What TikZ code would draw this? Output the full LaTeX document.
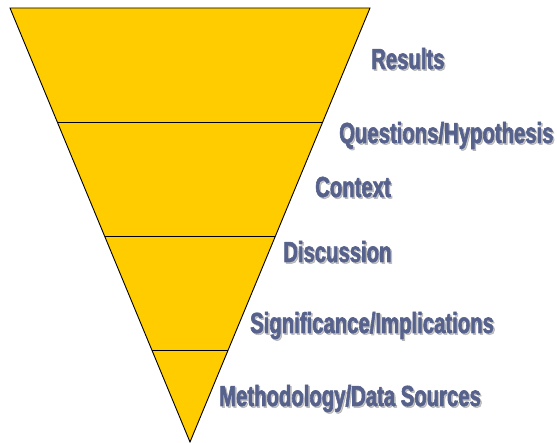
\documentclass[tikz,border=0pt]{standalone}
\usepackage{fontspec}
\usetikzlibrary{calc}
\newfontfamily\lblfont[FakeStretch=0.7,FakeBold=2]{Liberation Sans}
\definecolor{funnel}{RGB}{255,204,0}
\definecolor{lbltext}{RGB}{86,97,140}
\definecolor{lblshadow}{RGB}{150,150,150}
\begin{document}
\begin{tikzpicture}[x=1pt,y=-1pt,
  lbl/.style={anchor=base west,inner sep=0pt,font=\lblfont\bfseries\fontsize{29}{31}\selectfont,text=lbltext},
  shd/.style={anchor=base west,inner sep=0pt,font=\lblfont\bfseries\fontsize{29}{31}\selectfont,text=lblshadow,opacity=0.55},
  band/.style={draw=black,line width=0.9pt}]
\useasboundingbox (0,0) rectangle (557,443);
\coordinate (TL) at (10,8);
\coordinate (TR) at (370,8);
\coordinate (AP) at (190,442);
\filldraw[fill=funnel,draw=black,line width=0.9pt] (TL) -- (TR) -- (AP) -- cycle;
\coordinate (L1) at ($(TL)!0.2627!(AP)$);
\coordinate (R1) at ($(TR)!0.2627!(AP)$);
\coordinate (L2) at ($(TL)!0.5253!(AP)$);
\coordinate (R2) at ($(TR)!0.5253!(AP)$);
\coordinate (L3) at ($(TL)!0.788!(AP)$);
\coordinate (R3) at ($(TR)!0.788!(AP)$);
\draw[band] (L1) -- (R1);
\draw[band] (L2) -- (R2);
\draw[band] (L3) -- (R3);
% shadows
\node[shd] (s1) at (372.5,70.5) {Results};
\node[shd] (s2) at (340.5,144.5) {Questions/Hypothesis};
\node[shd] (s3) at (316.5,198.5) {Context};
\node[shd] (s4) at (284.5,263.5) {Discussion};
\node[shd] (s5) at (251.5,334.5) {Significance/Implications};
\node[shd] (s6) at (220.5,407.5) {Methodology/Data Sources};
% labels
\node[lbl] (t1) at (371,69) {Results};
\node[lbl] (t2) at (339,143) {Questions/Hypothesis};
\node[lbl] (t3) at (315,197) {Context};
\node[lbl] (t4) at (283,262) {Discussion};
\node[lbl] (t5) at (250,333) {Significance/Implications};
\node[lbl] (t6) at (219,406) {Methodology/Data Sources};
\end{tikzpicture}
\end{document}
